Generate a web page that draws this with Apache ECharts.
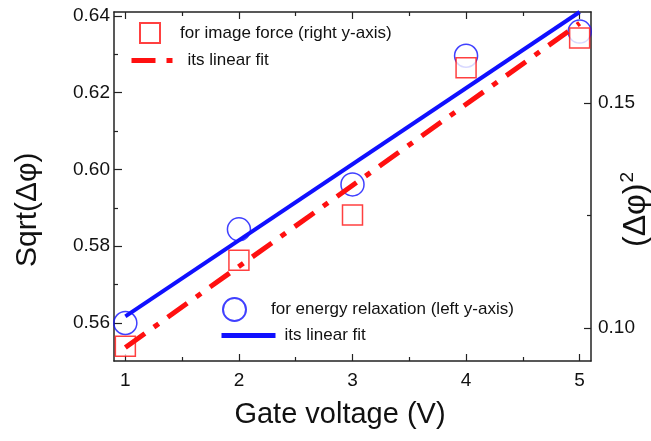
<!DOCTYPE html>
<html>
<head>
<meta charset="utf-8">
<script src="https://cdn.jsdelivr.net/npm/echarts@6/dist/echarts.min.js"></script>
<style>
  html, body { margin: 0; padding: 0; background: #fff; }
  #chart { width: 651px; height: 441px; }
</style>
</head>
<body>
<div id="chart"></div>
<script>
const voltage = [1, 2, 3, 4, 5]
const energyRelax = [0.5600, 0.5844, 0.5961, 0.6296, 0.6359]   // left axis
const imageForce = [0.0960, 0.1151, 0.1251, 0.1578, 0.1644]    // right axis
const fitX = [1, 5]
const energyFit = [0.5617, 0.6410]
const imageFit = [0.0957, 0.1677]

const xMajor = [1, 2, 3, 4, 5]
const xMinor = [1.5, 2.5, 3.5, 4.5]
const leftMajor = [0.56, 0.58, 0.60, 0.62, 0.64]
const leftMinor = [0.57, 0.59, 0.61, 0.63]
const rightMajor = [0.10, 0.15]
const rightMinor = [0.125]

const FONT = "'Liberation Sans', Arial, sans-serif"
const BLUE = '#1010ff'
const RED = '#ff1010'
const AXIS = '#222'
const RED_DASH = [24, 11, 6, 11]

const pairs = (xs, ys) => xs.map((x, i) => [x, ys[i]])

function xAx(position, ticks, len, showLine, showLabel) {
    return {
        type: 'value', position: position, min: 0.9, max: 5.1,
        axisLine: { show: showLine, lineStyle: { color: AXIS, width: 1.5 } },
        axisTick: { show: true, inside: true, length: len, customValues: ticks, lineStyle: { color: AXIS, width: 1.2 } },
        axisLabel: { show: showLabel, customValues: ticks, fontSize: 19, color: '#111', fontFamily: FONT, margin: 10 },
        splitLine: { show: false }
    }
}

function yAx(position, min, max, ticks, len, showLine, showLabel, margin) {
    return {
        type: 'value', position: position, min: min, max: max,
        axisLine: { show: showLine, lineStyle: { color: AXIS, width: 1.5 } },
        axisTick: { show: true, inside: true, length: len, customValues: ticks, lineStyle: { color: AXIS, width: 1.2 } },
        axisLabel: { show: showLabel, customValues: ticks, fontSize: 19, color: '#111', fontFamily: FONT, margin: margin,
                     formatter: v => v.toFixed(2) },
        splitLine: { show: false }
    }
}

const legendBase = {
    orient: 'horizontal', padding: 0, selectedMode: false,
    formatter: name => name.indexOf('fit') === 0 ? 'its linear fit' : name
}

const option = {
    animation: false,
    grid: { left: 114, right: 60, top: 12, bottom: 80 },
    xAxis: [
        xAx('bottom', xMajor, 7, true, true),
        xAx('bottom', xMinor, 4, false, false),
        xAx('top', xMajor, 7, true, false),
        xAx('top', xMinor, 4, false, false)
    ],
    yAxis: [
        yAx('left', 0.5501, 0.641, leftMajor, 8, true, true, 4),
        yAx('left', 0.5501, 0.641, leftMinor, 4, false, false, 4),
        yAx('right', 0.0927, 0.1702, rightMajor, 7, true, true, 7),
        yAx('right', 0.0927, 0.1702, rightMinor, 4, false, false, 7)
    ],
    legend: [
        Object.assign({}, legendBase, {
            data: ['for image force (right y-axis)'], left: 139, top: 22, itemWidth: 20, itemHeight: 20,
            textStyle: { fontSize: 17, fontFamily: FONT, color: '#111', padding: [0, 0, 0, 15] }
        }),
        Object.assign({}, legendBase, {
            data: ['fitRed'], left: 129, top: 52, itemWidth: 43, itemHeight: 14,
            itemStyle: { opacity: 0 },
            lineStyle: { color: RED, width: 5, type: RED_DASH },
            textStyle: { fontSize: 17, fontFamily: FONT, color: '#111', padding: [0, 0, 0, 8] }
        }),
        Object.assign({}, legendBase, {
            data: ['for energy relaxation (left y-axis)'], left: 222, top: 297, itemWidth: 23, itemHeight: 23,
            textStyle: { fontSize: 17, fontFamily: FONT, color: '#111', padding: [0, 0, 0, 20] }
        }),
        Object.assign({}, legendBase, {
            data: ['fitBlue'], left: 219, top: 327, itemWidth: 54, itemHeight: 14,
            itemStyle: { opacity: 0 },
            lineStyle: { color: BLUE, width: 5 },
            textStyle: { fontSize: 17, fontFamily: FONT, color: '#111', padding: [0, 0, 0, 4] }
        })
    ],
    graphic: [
        { type: 'text', x: 28, y: 267, rotation: Math.PI / 2,
          style: { text: 'Sqrt(Δφ)', fontSize: 30, fontFamily: FONT, fill: '#111', align: 'left', verticalAlign: 'middle' } },
        { type: 'text', x: 636, y: 247, rotation: Math.PI / 2,
          style: { text: '{a|(Δφ)}{b|2}', fontFamily: FONT, fill: '#111', align: 'left', verticalAlign: 'middle',
                   rich: { a: { fontSize: 32, fontFamily: FONT, fill: '#111' },
                           b: { fontSize: 19, fontFamily: FONT, fill: '#111', verticalAlign: 'top', padding: [0, 0, 16, 1] } } } },
        { type: 'text', x: 340, y: 415,
          style: { text: 'Gate voltage (V)', fontSize: 29, fontFamily: FONT, fill: '#111', align: 'center', verticalAlign: 'middle' } }
    ],
    series: [
        {
            name: 'for energy relaxation (left y-axis)', type: 'scatter', xAxisIndex: 0, yAxisIndex: 0,
            symbol: 'circle', symbolSize: 23,
            itemStyle: { color: 'rgba(255,255,255,0)', borderColor: BLUE, borderWidth: 1.5 },
            data: pairs(voltage, energyRelax)
        },
        {
            name: 'for image force (right y-axis)', type: 'scatter', xAxisIndex: 0, yAxisIndex: 2,
            symbol: 'rect', symbolSize: 20,
            itemStyle: { color: '#fff', borderColor: RED, borderWidth: 1.5 },
            data: pairs(voltage, imageForce)
        },
        {
            name: 'fitBlue', type: 'line', xAxisIndex: 0, yAxisIndex: 0,
            symbol: 'none', showSymbol: false,
            lineStyle: { color: BLUE, width: 4 }, itemStyle: { color: BLUE },
            data: pairs(fitX, energyFit)
        },
        {
            name: 'fitRed', type: 'line', xAxisIndex: 0, yAxisIndex: 2,
            symbol: 'none', showSymbol: false,
            lineStyle: { color: RED, width: 5, type: RED_DASH }, itemStyle: { color: RED },
            data: pairs(fitX, imageFit)
        }
    ]
}

const myChart = echarts.init(document.getElementById('chart'))
myChart.setOption(option)
</script>
</body>
</html>
